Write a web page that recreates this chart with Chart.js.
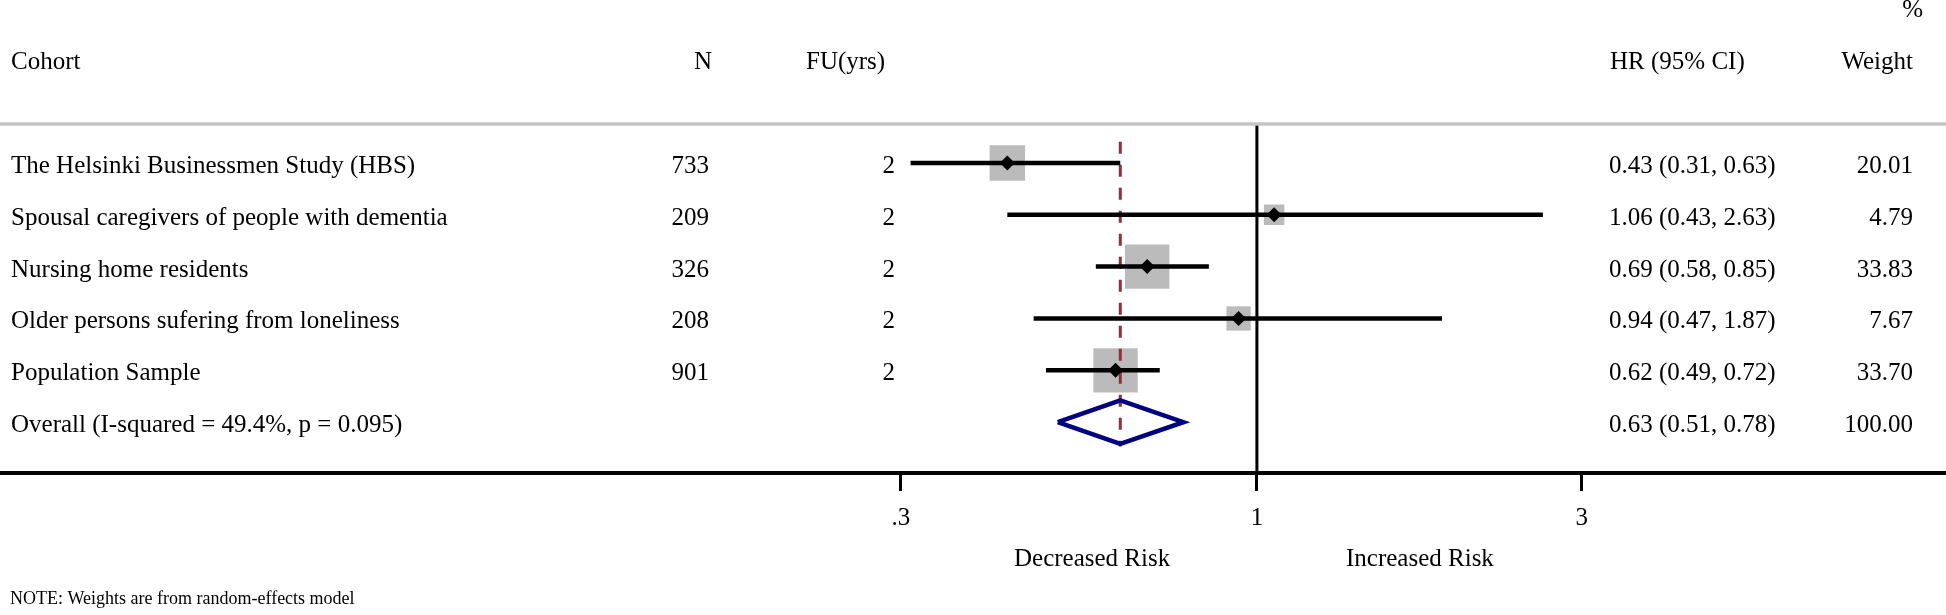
<!DOCTYPE html>
<html>
<head>
<meta charset="utf-8">
<title>Forest plot</title>
<script src="https://cdn.jsdelivr.net/npm/chart.js@4.4.1/dist/chart.umd.min.js"></script>
<style>
  html, body { margin: 0; padding: 0; background: #fff; }
  #wrap { width: 1946px; height: 615px; position: relative; }
</style>
</head>
<body>
<div id="wrap"><canvas id="forest"></canvas></div>
<script>
// study rows
const cohorts = [
    'The Helsinki Businessmen Study (HBS)',
    'Spousal caregivers of people with dementia',
    'Nursing home residents',
    'Older persons sufering from loneliness',
    'Population Sample'
];
const nValues  = [733, 209, 326, 208, 901];
const fuYears  = [2, 2, 2, 2, 2];
const hrValues = [0.43, 1.06, 0.69, 0.94, 0.62];
const ciLow    = [0.31, 0.43, 0.58, 0.47, 0.49];
const ciHigh   = [0.63, 2.63, 0.85, 1.87, 0.72];
const weights  = [20.01, 4.79, 33.83, 7.67, 33.70];

// pooled estimate
const overallLabel  = 'Overall (I-squared = 49.4%, p = 0.095)';
const overallHr     = 0.63;
const overallLow    = 0.51;
const overallHigh   = 0.78;
const overallWeight = 100.00;

// x axis
const xTicks      = [0.3, 1, 3];
const xTickLabels = ['.3', '1', '3'];
const xMin = 0.01426, xMax = 10.28;

Chart.defaults.font.family = '"Liberation Serif", "Times New Roman", serif';
Chart.defaults.color = '#000';

const overallRow = cohorts.length;
const fmt = v => v.toFixed(2);

// box side grows with the study weight
const boxRadius = w => (6 + 6.6 * Math.sqrt(w)) / Math.SQRT2;

var datasets = [];

// point estimate markers (drawn on top)
datasets.push({
    data: hrValues.map((v, i) => ({x: v, y: i})),
    showLine: false,
    pointStyle: 'rectRot',
    pointRadius: 7.5,
    pointBackgroundColor: '#000',
    pointBorderWidth: 0
});

// confidence intervals
cohorts.forEach(function(c, i) {
    datasets.push({
        data: [{x: ciLow[i], y: i}, {x: ciHigh[i], y: i}],
        showLine: true,
        borderColor: '#000',
        borderWidth: 4.5,
        borderCapStyle: 'butt',
        pointRadius: 0
    });
});

// pooled diamond
datasets.push({
    data: [
        {x: overallLow, y: overallRow},
        {x: overallHr, y: overallRow - 0.42},
        {x: overallHigh, y: overallRow},
        {x: overallHr, y: overallRow + 0.42},
        {x: overallLow, y: overallRow}
    ],
    showLine: true,
    borderColor: '#000080',
    borderWidth: 4.5,
    borderJoinStyle: 'miter',
    fill: false,
    pointRadius: 0
});

// pooled estimate reference line
datasets.push({
    data: [{x: overallHr, y: -0.41}, {x: overallHr, y: overallRow + 0.47}],
    showLine: true,
    borderColor: '#9b2a35',
    borderWidth: 3,
    borderDash: [12, 11],
    pointRadius: 0
});

// line of no effect
datasets.push({
    data: [{x: 1, y: -0.75}, {x: 1, y: overallRow + 0.98}],
    showLine: true,
    borderColor: '#000',
    borderWidth: 3,
    pointRadius: 0
});

// weight boxes (drawn first)
datasets.push({
    data: hrValues.map((v, i) => ({x: v, y: i})),
    showLine: false,
    pointStyle: 'rect',
    pointRadius: weights.map(boxRadius),
    pointBackgroundColor: '#bbbbbb',
    pointBorderWidth: 0
});

const tablePlugin = {
    id: 'forestTable',
    afterDraw(chart) {
        const ctx = chart.ctx;
        const area = chart.chartArea;
        const y = chart.scales.y;

        ctx.save();
        // header rule
        ctx.strokeStyle = '#c4c4c4';
        ctx.lineWidth = 3.5;
        ctx.beginPath();
        ctx.moveTo(0, area.top);
        ctx.lineTo(chart.width, area.top);
        ctx.stroke();

        ctx.fillStyle = '#000';
        ctx.textBaseline = 'alphabetic';
        ctx.font = '25px "Liberation Serif"';

        // headers
        ctx.textAlign = 'left';
        ctx.fillText('Cohort', 11, 69);
        ctx.fillText('FU(yrs)', 806, 69);
        ctx.fillText('HR (95% CI)', 1610, 69);
        ctx.textAlign = 'right';
        ctx.fillText('N', 712, 69);
        ctx.fillText('Weight', 1913, 69);
        ctx.fillText('%', 1923, 17);

        // study rows
        cohorts.forEach(function(c, i) {
            const py = y.getPixelForValue(i) + 10;
            ctx.textAlign = 'left';
            ctx.fillText(c, 11, py);
            ctx.fillText(fmt(hrValues[i]) + ' (' + fmt(ciLow[i]) + ', ' + fmt(ciHigh[i]) + ')', 1609, py);
            ctx.textAlign = 'right';
            ctx.fillText(String(nValues[i]), 709, py);
            ctx.fillText(String(fuYears[i]), 895, py);
            ctx.fillText(fmt(weights[i]), 1913, py);
        });

        // overall row
        const oy = y.getPixelForValue(overallRow) + 10;
        ctx.textAlign = 'left';
        ctx.fillText(overallLabel, 11, oy);
        ctx.fillText(fmt(overallHr) + ' (' + fmt(overallLow) + ', ' + fmt(overallHigh) + ')', 1609, oy);
        ctx.textAlign = 'right';
        ctx.fillText(fmt(overallWeight), 1913, oy);

        // direction labels
        ctx.textAlign = 'left';
        ctx.fillText('Decreased Risk', 1014, 566);
        ctx.fillText('Increased Risk', 1346, 566);

        // footnote
        ctx.font = '18px "Liberation Serif"';
        ctx.fillText('NOTE: Weights are from random-effects model', 10, 604);
        ctx.restore();
    }
};

new Chart(document.getElementById('forest'), {
    type: 'scatter',
    data: {datasets: datasets},
    options: {
        responsive: true,
        maintainAspectRatio: false,
        animation: false,
        events: [],
        layout: {autoPadding: false, padding: {top: 124, left: 0, right: 0, bottom: 0}},
        plugins: {legend: {display: false}, tooltip: {enabled: false}},
        scales: {
            x: {
                type: 'logarithmic',
                position: 'bottom',
                min: xMin,
                max: xMax,
                bounds: 'data',
                afterBuildTicks: s => { s.ticks = xTicks.map(v => ({value: v})); },
                afterFit: s => { s.height = 142; },
                border: {display: true, color: '#000', width: 4},
                grid: {drawOnChartArea: false, drawTicks: true, tickLength: 18, tickWidth: 3, tickColor: '#000'},
                ticks: {
                    autoSkip: false,
                    maxRotation: 0,
                    color: '#000',
                    padding: 12,
                    font: {size: 25},
                    callback: function(v) {
                        const k = xTicks.indexOf(v);
                        return k >= 0 ? xTickLabels[k] : '';
                    }
                }
            },
            y: {
                type: 'linear',
                display: false,
                reverse: true,
                min: -0.75,
                max: overallRow + 0.98
            }
        }
    },
    plugins: [tablePlugin]
});
</script>
</body>
</html>
